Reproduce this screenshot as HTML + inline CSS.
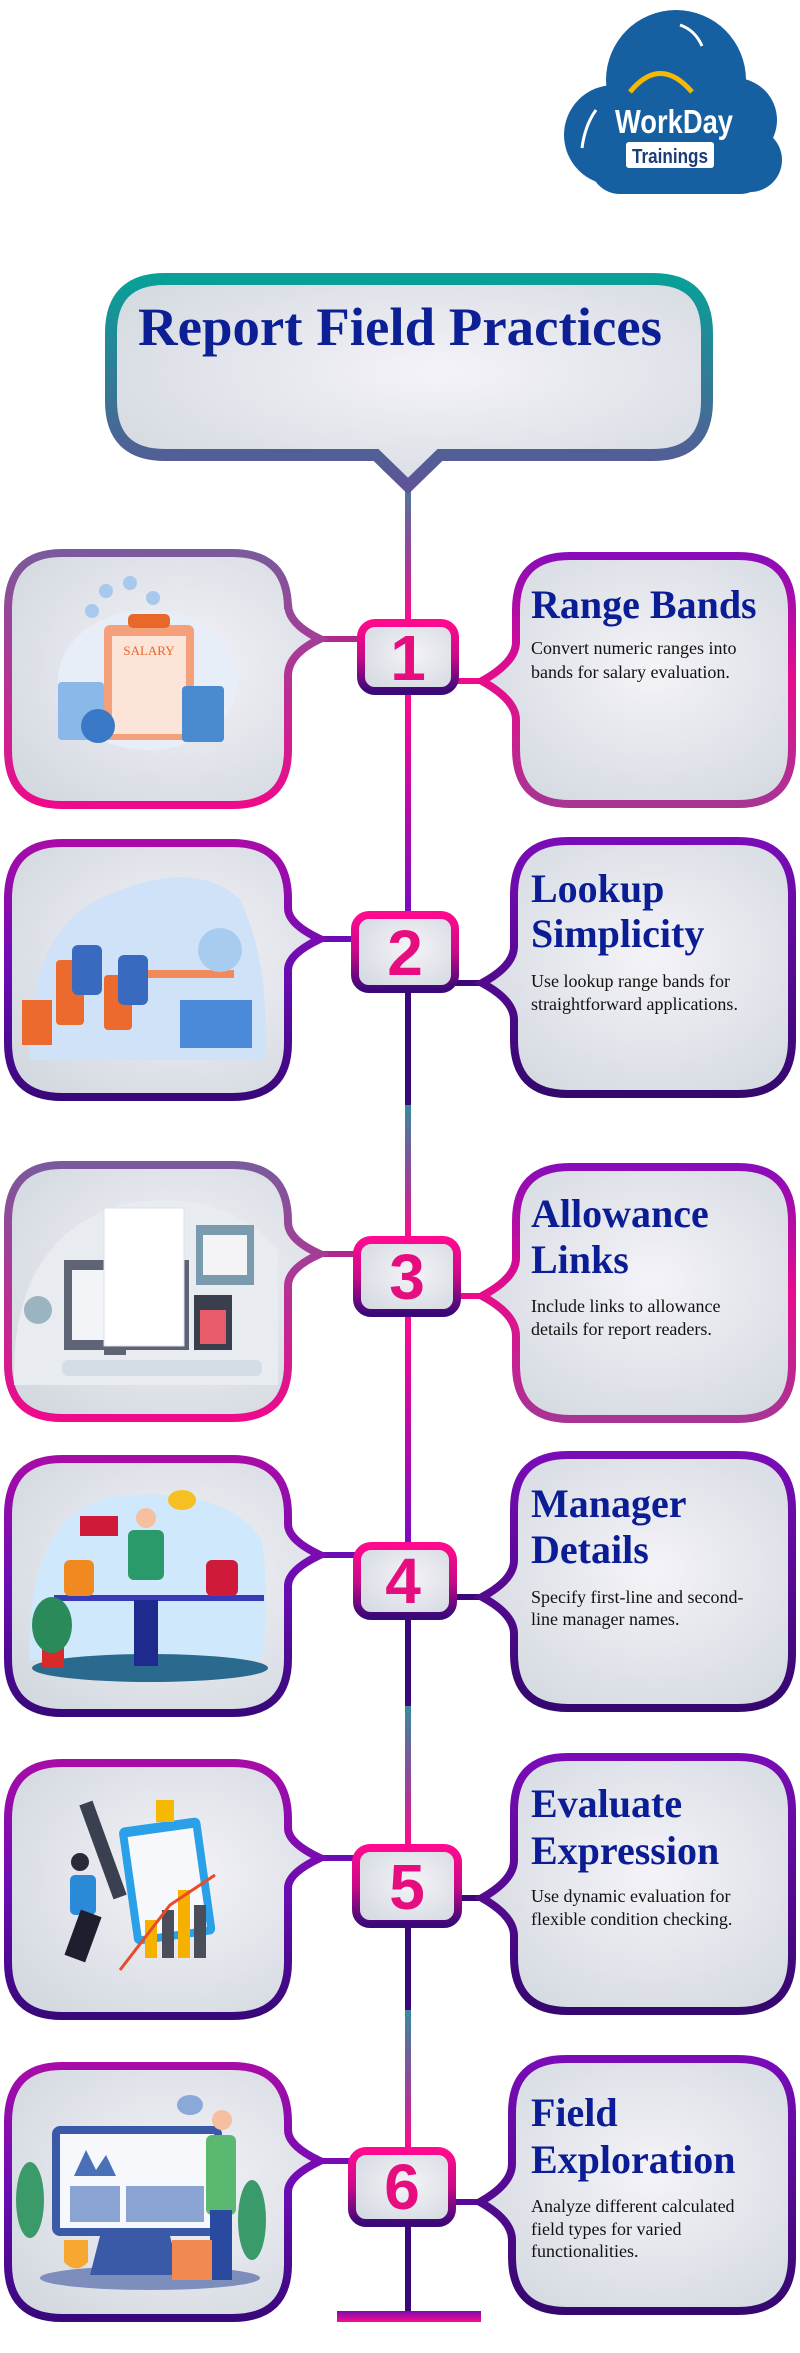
<!DOCTYPE html>
<html><head><meta charset="utf-8"><style>
html,body{margin:0;padding:0;background:#fff;}
svg{display:block;}
.h{font-family:"Liberation Serif",serif;font-weight:bold;font-size:40px;fill:#0b1d94;}
.b{font-family:"Liberation Serif",serif;font-size:18px;fill:#111;}
.n{font-family:"Liberation Sans",sans-serif;font-weight:bold;font-size:64px;fill:#e60e7e;text-anchor:middle;}
</style></head><body>
<svg width="800" height="2353" viewBox="0 0 800 2353" xmlns="http://www.w3.org/2000/svg">
<defs>
<radialGradient id="fill" cx="0.55" cy="0.45" r="0.7"><stop offset="0" stop-color="#f4f3f8"/><stop offset="1" stop-color="#d2d8df"/></radialGradient>
<linearGradient id="gTitle" x1="0" y1="0" x2="0" y2="1"><stop offset="0" stop-color="#08a097"/><stop offset="1" stop-color="#5e5496"/></linearGradient>
<linearGradient id="gA" x1="0" y1="0" x2="0" y2="1"><stop offset="0" stop-color="#7a5a9c"/><stop offset="1" stop-color="#ee0a8a"/></linearGradient>
<linearGradient id="gAr" x1="0" y1="0" x2="0" y2="1"><stop offset="0" stop-color="#8a0cb8"/><stop offset="0.5" stop-color="#e80c8c"/><stop offset="1" stop-color="#a83494"/></linearGradient>
<linearGradient id="gB" x1="0" y1="0" x2="0" y2="1"><stop offset="0" stop-color="#a80ca8"/><stop offset="0.5" stop-color="#6a0cb4"/><stop offset="1" stop-color="#38087a"/></linearGradient>
<linearGradient id="gBr" x1="0" y1="0" x2="0" y2="1"><stop offset="0" stop-color="#7a0cb8"/><stop offset="1" stop-color="#34086e"/></linearGradient>
<linearGradient id="gNum" x1="0" y1="0" x2="0" y2="1"><stop offset="0" stop-color="#ff0a8e"/><stop offset="0.5" stop-color="#c80a88"/><stop offset="1" stop-color="#3a0878"/></linearGradient>
<linearGradient id="gTP" x1="0" y1="0" x2="0" y2="1"><stop offset="0" stop-color="#3a8a9c"/><stop offset="0.5" stop-color="#8a4a9a"/><stop offset="1" stop-color="#ff0a8e"/></linearGradient>
<linearGradient id="gPP" x1="0" y1="0" x2="0" y2="1"><stop offset="0" stop-color="#ff0a8e"/><stop offset="1" stop-color="#7a0cc0"/></linearGradient>
<linearGradient id="gBar" x1="0" y1="0" x2="0" y2="1"><stop offset="0" stop-color="#7a0cb0"/><stop offset="1" stop-color="#ff0a8e"/></linearGradient>
</defs>

<!-- Logo -->
<g>
<circle cx="676" cy="80" r="70" fill="#1660a2"/>
<circle cx="735" cy="120" r="42" fill="#1660a2"/>
<circle cx="614" cy="135" r="50" fill="#1660a2"/>
<circle cx="750" cy="160" r="32" fill="#1660a2"/>
<rect x="590" y="120" width="180" height="74" rx="30" fill="#1660a2"/>
<path d="M630 92 Q660 55 692 92" stroke="#f6b800" stroke-width="5" fill="none"/>
<path d="M596 110 Q585 125 582 148" stroke="#fff" stroke-width="3" fill="none"/>
<path d="M680 25 Q695 30 702 46" stroke="#fff" stroke-width="3" fill="none"/>
<text x="674" y="133" font-family="Liberation Sans,sans-serif" font-weight="bold" font-size="33" fill="#fff" text-anchor="middle" textLength="118" lengthAdjust="spacingAndGlyphs">WorkDay</text>
<rect x="626" y="142" width="88" height="26" rx="3" fill="#fff"/>
<text x="670" y="163" font-family="Liberation Sans,sans-serif" font-weight="bold" font-size="20" fill="#1a3c7a" text-anchor="middle" textLength="76" lengthAdjust="spacingAndGlyphs">Trainings</text>
</g>

<!-- Vertical line segments -->
<rect x="405" y="470" width="6" height="150" fill="url(#gTP)"/>
<rect x="405" y="690" width="6" height="222" fill="url(#gPP)"/>
<rect x="405" y="990" width="6" height="116" fill="#3a0878"/>
<rect x="405" y="1105" width="6" height="132" fill="url(#gTP)"/>
<rect x="405" y="1314" width="6" height="229" fill="url(#gPP)"/>
<rect x="405" y="1615" width="6" height="92" fill="#3a0878"/>
<rect x="405" y="1706" width="6" height="139" fill="url(#gTP)"/>
<rect x="405" y="1925" width="6" height="86" fill="#3a0878"/>
<rect x="405" y="2010" width="6" height="138" fill="url(#gTP)"/>
<rect x="405" y="2224" width="6" height="90" fill="#3a0878"/>
<rect x="337" y="2311" width="144" height="11" fill="url(#gBar)"/>

<!-- Title -->
<path d="M165 279 H653 Q707 279 707 333 V401 Q707 455 653 455 H440 L408 486 L376 455 H165 Q111 455 111 401 V333 Q111 279 165 279 Z" fill="url(#fill)" stroke="url(#gTitle)" stroke-width="12"/>
<text x="400" y="345" font-family="Liberation Serif,serif" font-weight="bold" font-size="54" fill="#0d1f94" text-anchor="middle" textLength="524" lengthAdjust="spacingAndGlyphs">Report Field Practices</text>

<!-- Row 1 -->
<rect x="320" y="636" width="40" height="6" fill="#b0288e"/>
<rect x="455" y="678" width="28" height="6" fill="#ee0a8a"/>
<path d="M62 553 H232 Q288 553 288 609 V604 Q288 624 320 639 Q288 654 288 676 V750 Q288 805 232 805 H62 Q8 805 8 750 V609 Q8 553 62 553 Z" fill="url(#fill)" stroke="url(#gA)" stroke-width="8"/>
<path d="M570 556 H738 Q792 556 792 610 V749 Q792 804 738 804 H570 Q516 804 516 749 V720 Q516 700 482 681 Q516 662 516 642 V610 Q516 556 570 556 Z" fill="url(#fill)" stroke="url(#gAr)" stroke-width="8"/>
<rect x="361" y="623" width="94" height="68" rx="14" fill="url(#fill)" stroke="url(#gNum)" stroke-width="8"/>
<text class="n" x="408" y="680">1</text>
<text class="h" x="531" y="618">Range Bands</text>
<text class="b" x="531" y="654">Convert numeric ranges into</text>
<text class="b" x="531" y="678">bands for salary evaluation.</text>
<!-- illus 1 -->
<ellipse cx="148" cy="680" rx="90" ry="70" fill="#e8eef8"/>
<rect x="104" y="625" width="90" height="115" rx="6" fill="#f4a07a"/>
<rect x="112" y="636" width="74" height="98" fill="#fde4d8"/>
<rect x="128" y="614" width="42" height="14" rx="5" fill="#e8682a"/>
<text x="149" y="655" font-family="Liberation Serif,serif" font-size="13" fill="#e8682a" text-anchor="middle">SALARY</text>
<rect x="58" y="682" width="46" height="58" rx="4" fill="#8ab8e8"/>
<rect x="182" y="686" width="42" height="56" rx="4" fill="#4a8ad0"/>
<circle cx="98" cy="726" r="17" fill="#3a78c8"/>
<circle cx="106" cy="591" r="7" fill="#a8c8ee"/><circle cx="130" cy="583" r="7" fill="#a8c8ee"/><circle cx="92" cy="611" r="7" fill="#a8c8ee"/><circle cx="153" cy="598" r="7" fill="#a8c8ee"/>

<!-- Row 2 -->
<rect x="318" y="936" width="40" height="6" fill="#6a0cb4"/>
<rect x="455" y="980" width="28" height="6" fill="#3a0878"/>
<path d="M62 843 H232 Q288 843 288 899 V908 Q288 924 320 939 Q288 954 288 970 V1043 Q288 1097 232 1097 H62 Q8 1097 8 1043 V899 Q8 843 62 843 Z" fill="url(#fill)" stroke="url(#gB)" stroke-width="8"/>
<path d="M568 841 H738 Q792 841 792 895 V1040 Q792 1094 738 1094 H568 Q514 1094 514 1040 V1020 Q514 1000 482 983 Q514 966 514 946 V895 Q514 841 568 841 Z" fill="url(#fill)" stroke="url(#gBr)" stroke-width="8"/>
<rect x="355" y="915" width="100" height="74" rx="14" fill="url(#fill)" stroke="url(#gNum)" stroke-width="8"/>
<text class="n" x="405" y="975">2</text>
<text class="h" x="531" y="902">Lookup</text>
<text class="h" x="531" y="947">Simplicity</text>
<text class="b" x="531" y="987">Use lookup range bands for</text>
<text class="b" x="531" y="1010">straightforward applications.</text>
<!-- illus 2 -->
<path d="M30 1060 Q25 920 120 890 Q200 860 240 900 Q270 960 265 1060 Z" fill="#cfe2f8"/>
<rect x="124" y="970" width="110" height="8" fill="#f08a5a"/>
<rect x="56" y="960" width="28" height="65" rx="4" fill="#ec6a2e"/>
<rect x="104" y="975" width="28" height="55" rx="4" fill="#ec6a2e"/>
<rect x="72" y="945" width="30" height="50" rx="6" fill="#3a6ac0"/>
<rect x="118" y="955" width="30" height="50" rx="6" fill="#3a6ac0"/>
<rect x="180" y="1000" width="72" height="48" fill="#4a8ad8"/>
<rect x="22" y="1000" width="30" height="45" fill="#ec6a2e"/>
<circle cx="220" cy="950" r="22" fill="#a8ccf0"/>

<!-- Row 3 -->
<rect x="318" y="1251" width="40" height="6" fill="#b0288e"/>
<rect x="455" y="1293" width="28" height="6" fill="#ee0a8a"/>
<path d="M62 1165 H232 Q288 1165 288 1221 V1222 Q288 1240 320 1254 Q288 1268 288 1286 V1364 Q288 1418 232 1418 H62 Q8 1418 8 1364 V1221 Q8 1165 62 1165 Z" fill="url(#fill)" stroke="url(#gA)" stroke-width="8"/>
<path d="M570 1167 H738 Q792 1167 792 1221 V1365 Q792 1419 738 1419 H570 Q516 1419 516 1365 V1336 Q516 1314 482 1296 Q516 1278 516 1258 V1221 Q516 1167 570 1167 Z" fill="url(#fill)" stroke="url(#gAr)" stroke-width="8"/>
<rect x="357" y="1240" width="100" height="73" rx="14" fill="url(#fill)" stroke="url(#gNum)" stroke-width="8"/>
<text class="n" x="407" y="1299">3</text>
<text class="h" x="531" y="1227">Allowance</text>
<text class="h" x="531" y="1273">Links</text>
<text class="b" x="531" y="1312">Include links to allowance</text>
<text class="b" x="531" y="1335">details for report readers.</text>
<!-- illus 3 -->
<path d="M14 1385 Q10 1240 120 1205 Q220 1185 278 1250 V1385 Z" fill="#e8ecf0"/>
<rect x="62" y="1360" width="200" height="16" rx="6" fill="#d4dde6"/>
<rect x="64" y="1260" width="125" height="90" fill="#5e6474"/>
<rect x="72" y="1270" width="108" height="70" fill="#f2f4f8"/>
<rect x="104" y="1310" width="22" height="45" fill="#5e6474"/>
<rect x="104" y="1310" width="80" height="20" fill="none"/>
<rect x="104" y="1208" width="80" height="138" fill="#fff" stroke="#dde" stroke-width="1"/>
<rect x="196" y="1225" width="58" height="60" fill="#7a9aae"/>
<rect x="203" y="1235" width="44" height="40" fill="#f4f4f6"/>
<rect x="194" y="1295" width="38" height="55" fill="#3a3f4e"/>
<rect x="200" y="1310" width="26" height="34" fill="#e85c6a"/>
<circle cx="38" cy="1310" r="14" fill="#9ab4c0"/>

<!-- Row 4 -->
<rect x="318" y="1552" width="40" height="6" fill="#6a0cb4"/>
<rect x="455" y="1594" width="28" height="6" fill="#3a0878"/>
<path d="M62 1459 H232 Q288 1459 288 1515 V1524 Q288 1540 320 1555 Q288 1570 288 1586 V1659 Q288 1713 232 1713 H62 Q8 1713 8 1659 V1515 Q8 1459 62 1459 Z" fill="url(#fill)" stroke="url(#gB)" stroke-width="8"/>
<path d="M568 1455 H738 Q792 1455 792 1509 V1654 Q792 1708 738 1708 H568 Q514 1708 514 1654 V1634 Q514 1614 482 1597 Q514 1580 514 1560 V1509 Q514 1455 568 1455 Z" fill="url(#fill)" stroke="url(#gBr)" stroke-width="8"/>
<rect x="357" y="1546" width="96" height="70" rx="14" fill="url(#fill)" stroke="url(#gNum)" stroke-width="8"/>
<text class="n" x="403" y="1603">4</text>
<text class="h" x="531" y="1517">Manager</text>
<text class="h" x="531" y="1563">Details</text>
<text class="b" x="531" y="1603">Specify first-line and second-</text>
<text class="b" x="531" y="1625">line manager names.</text>
<!-- illus 4 -->
<path d="M30 1660 Q25 1500 130 1495 Q230 1490 262 1540 Q270 1600 262 1660 Z" fill="#cfe8fc"/>
<ellipse cx="150" cy="1668" rx="118" ry="14" fill="#2a6a8e"/>
<rect x="54" y="1595" width="210" height="6" fill="#3a3ab8"/>
<rect x="134" y="1600" width="24" height="66" fill="#1e2a8e"/>
<rect x="128" y="1530" width="36" height="50" rx="6" fill="#2a9a6a"/>
<circle cx="146" cy="1518" r="10" fill="#f4c0a0"/>
<rect x="64" y="1560" width="30" height="36" rx="6" fill="#f08a20"/>
<rect x="206" y="1560" width="32" height="36" rx="6" fill="#d01a3a"/>
<rect x="42" y="1640" width="22" height="28" fill="#d82a2a"/>
<ellipse cx="52" cy="1625" rx="20" ry="28" fill="#2a8a5a"/>
<rect x="80" y="1516" width="38" height="20" fill="#d01a3a"/>
<ellipse cx="182" cy="1500" rx="14" ry="10" fill="#f6c022"/>

<!-- Row 5 -->
<rect x="318" y="1855" width="40" height="6" fill="#6a0cb4"/>
<rect x="455" y="1895" width="28" height="6" fill="#3a0878"/>
<path d="M62 1763 H232 Q288 1763 288 1819 V1828 Q288 1843 320 1858 Q288 1873 288 1888 V1962 Q288 2016 232 2016 H62 Q8 2016 8 1962 V1819 Q8 1763 62 1763 Z" fill="url(#fill)" stroke="url(#gB)" stroke-width="8"/>
<path d="M568 1757 H738 Q792 1757 792 1811 V1957 Q792 2011 738 2011 H568 Q514 2011 514 1957 V1936 Q514 1916 482 1898 Q514 1880 514 1860 V1811 Q514 1757 568 1757 Z" fill="url(#fill)" stroke="url(#gBr)" stroke-width="8"/>
<rect x="356" y="1848" width="102" height="76" rx="14" fill="url(#fill)" stroke="url(#gNum)" stroke-width="8"/>
<text class="n" x="407" y="1909">5</text>
<text class="h" x="531" y="1817">Evaluate</text>
<text class="h" x="531" y="1864">Expression</text>
<text class="b" x="531" y="1902">Use dynamic evaluation for</text>
<text class="b" x="531" y="1925">flexible condition checking.</text>
<!-- illus 5 -->
<rect x="126" y="1822" width="82" height="118" rx="6" fill="#2aa0e8" transform="rotate(-8 167 1880)"/>
<rect x="134" y="1832" width="66" height="100" fill="#f6f8fc" transform="rotate(-8 167 1880)"/>
<rect x="156" y="1800" width="18" height="22" fill="#f6b800"/>
<rect x="96" y="1800" width="14" height="100" fill="#3a4050" transform="rotate(-20 103 1850)"/>
<rect x="145" y="1920" width="12" height="38" fill="#f6b000"/>
<rect x="162" y="1910" width="12" height="48" fill="#4a4e5a"/>
<rect x="178" y="1890" width="12" height="68" fill="#f6b000"/>
<rect x="194" y="1905" width="12" height="53" fill="#4a4e5a"/>
<path d="M120 1970 L170 1905 L215 1875" stroke="#e84a2a" stroke-width="3" fill="none"/>
<rect x="70" y="1875" width="26" height="40" rx="5" fill="#2a8ad8"/>
<circle cx="80" cy="1862" r="9" fill="#2a2a3a"/>
<rect x="72" y="1912" width="22" height="48" fill="#1e1e2e" transform="rotate(20 83 1936)"/>

<!-- Row 6 -->
<rect x="318" y="2158" width="36" height="6" fill="#7a0cb4"/>
<rect x="452" y="2199" width="30" height="6" fill="#5a0a9a"/>
<path d="M62 2066 H232 Q288 2066 288 2122 V2130 Q288 2146 320 2161 Q288 2176 288 2192 V2264 Q288 2318 232 2318 H62 Q8 2318 8 2264 V2122 Q8 2066 62 2066 Z" fill="url(#fill)" stroke="url(#gB)" stroke-width="8"/>
<path d="M566 2059 H738 Q792 2059 792 2113 V2257 Q792 2311 738 2311 H566 Q512 2311 512 2257 V2240 Q512 2220 480 2202 Q512 2184 512 2164 V2113 Q512 2059 566 2059 Z" fill="url(#fill)" stroke="url(#gBr)" stroke-width="8"/>
<rect x="352" y="2151" width="100" height="72" rx="14" fill="url(#fill)" stroke="url(#gNum)" stroke-width="8"/>
<text class="n" x="402" y="2209">6</text>
<text class="h" x="531" y="2126">Field</text>
<text class="h" x="531" y="2173">Exploration</text>
<text class="b" x="531" y="2212">Analyze different calculated</text>
<text class="b" x="531" y="2235">field types for varied</text>
<text class="b" x="531" y="2257">functionalities.</text>
<!-- illus 6 -->
<ellipse cx="150" cy="2278" rx="110" ry="12" fill="#7e8ebc"/>
<rect x="52" y="2126" width="170" height="110" rx="8" fill="#3a5aa8"/>
<rect x="60" y="2134" width="154" height="94" fill="#f6f8fc"/>
<rect x="70" y="2186" width="50" height="36" fill="#8aa4d4"/>
<rect x="126" y="2186" width="78" height="36" fill="#8aa4d4"/>
<path d="M74 2176 L86 2150 L96 2170 L106 2155 L116 2176 Z" fill="#4a70b8"/>
<path d="M100 2236 L90 2275 H180 L170 2236 Z" fill="#3a5aa8"/>
<rect x="206" y="2135" width="30" height="80" rx="6" fill="#5ab870"/>
<rect x="210" y="2210" width="22" height="70" fill="#2a4aa0"/>
<circle cx="222" cy="2120" r="10" fill="#f4c0a0"/>
<path d="M64 2240 L88 2240 L88 2262 Q76 2275 64 2262 Z" fill="#f6a830"/>
<rect x="172" y="2240" width="40" height="40" fill="#f08a50"/>
<ellipse cx="30" cy="2200" rx="14" ry="38" fill="#3a9a6a"/>
<ellipse cx="252" cy="2220" rx="14" ry="40" fill="#3a9a6a"/>
<ellipse cx="190" cy="2105" rx="13" ry="10" fill="#8aa8d8"/>
</svg>
</body></html>
